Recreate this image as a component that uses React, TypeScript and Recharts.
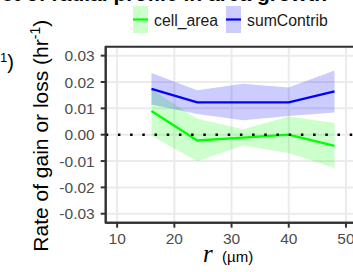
import React from "react";
import {
  ComposedChart,
  Area,
  Line,
  XAxis,
  YAxis,
  CartesianGrid,
  ReferenceLine,
  ReferenceArea,
  Legend,
} from "recharts";

const radius = [16, 24, 32, 40, 48];
const cellArea = [0.009, -0.0022, -0.0011, 0.0, -0.0042];
const cellAreaLow = [-0.0004, -0.0101, -0.0041, -0.0069, -0.0126];
const cellAreaHigh = [0.0172, 0.0061, 0.0021, 0.0069, 0.0044];
const sumContrib = [0.0174, 0.0123, 0.0123, 0.0123, 0.0164];
const sumContribLow = [0.0115, 0.0079, 0.0055, 0.0071, 0.0084];
const sumContribHigh = [0.0234, 0.0169, 0.0193, 0.0179, 0.0244];

const xTicks = [10, 20, 30, 40, 50];
const yTicks = [-0.03, -0.02, -0.01, 0, 0.01, 0.02, 0.03];
const xDomain = [8, 52];
const yDomain = [-0.0334, 0.0334];

const seriesNames = ["cell_area", "sumContrib"];
const lineColors = ["#00ff00", "#0000ff"];
const bandColors = ["#ccffcc", "#ccccff"];

const data = radius.map((r, i) => ({
  r,
  cellArea: cellArea[i],
  cellAreaBand: [cellAreaLow[i], cellAreaHigh[i]],
  sumContrib: sumContrib[i],
  sumContribBand: [sumContribLow[i], sumContribHigh[i]],
}));

const FONT = "'Liberation Sans', Arial, sans-serif";

const LegendContent = () => {
  const items = [
    { x: 133, textX: 154 },
    { x: 226, textX: 247 },
  ];
  return (
    <svg width={353} height={40} style={{ display: "block" }}>
      {items.map((it, i) => (
        <g key={seriesNames[i]}>
          <rect x={it.x} y={6} width={15} height={27} fill={bandColors[i]} />
          <line
            x1={it.x}
            x2={it.x + 15}
            y1={19.5}
            y2={19.5}
            stroke={lineColors[i]}
            strokeWidth={2.2}
          />
          <text
            x={it.textX}
            y={25.5}
            fontFamily={FONT}
            fontSize={15.8}
            fill="#1a1a1a"
          >
            {seriesNames[i]}
          </text>
        </g>
      ))}
    </svg>
  );
};

const fmt = (v: number) => (Math.abs(v) < 1e-9 ? "0.00" : v.toFixed(2));

export default function App() {
  return (
    <div
      style={{
        position: "absolute",
        left: 0,
        top: 0,
        width: 353,
        height: 272,
        overflow: "hidden",
        background: "#fff",
      }}
    >
      <ComposedChart
        width={360}
        height={272}
        data={data}
        margin={{ top: 46.7, right: 2.6, bottom: 0, left: 0 }}
      >
        <CartesianGrid stroke="#ebebeb" strokeWidth={2} />
        <XAxis
          dataKey="r"
          type="number"
          domain={xDomain}
          ticks={xTicks}
          height={49.3}
          allowDataOverflow
          axisLine={{ stroke: "#333333", strokeWidth: 2 }}
          tickLine={{ stroke: "#333333", strokeWidth: 2 }}
          tickSize={5}
          tickMargin={5}
          tick={{ fill: "#4d4d4d", fontSize: 15.5, fontFamily: FONT }}
        />
        <YAxis
          type="number"
          domain={yDomain}
          ticks={yTicks}
          width={105.7}
          allowDataOverflow
          tickFormatter={fmt}
          axisLine={{ stroke: "#333333", strokeWidth: 2 }}
          tickLine={{ stroke: "#333333", strokeWidth: 2 }}
          tickSize={5}
          tickMargin={6}
          tick={{ fill: "#4d4d4d", fontSize: 15.5, fontFamily: FONT }}
        />
        <Area
          type="linear"
          dataKey="cellAreaBand"
          stroke="none"
          fill="#00ff00"
          fillOpacity={0.2}
          isAnimationActive={false}
          activeDot={false}
        />
        <Area
          type="linear"
          dataKey="sumContribBand"
          stroke="none"
          fill="#0000ff"
          fillOpacity={0.2}
          isAnimationActive={false}
          activeDot={false}
        />
        <Line
          type="linear"
          dataKey="cellArea"
          stroke={lineColors[0]}
          strokeWidth={2.3}
          dot={false}
          activeDot={false}
          isAnimationActive={false}
        />
        <Line
          type="linear"
          dataKey="sumContrib"
          stroke={lineColors[1]}
          strokeWidth={2.3}
          dot={false}
          activeDot={false}
          isAnimationActive={false}
        />
        <ReferenceLine
          y={0}
          stroke="#000"
          strokeWidth={2.5}
          strokeDasharray="2.5 9.7"
        />
        <ReferenceArea
          x1={xDomain[0]}
          x2={xDomain[1]}
          y1={yDomain[0]}
          y2={yDomain[1]}
          fill="none"
          stroke="#333333"
          strokeWidth={2}
        />
        <Legend
          layout="horizontal"
          verticalAlign="middle"
          align="center"
          content={<LegendContent />}
          wrapperStyle={{ position: "absolute", left: 0, top: 0, width: 353, height: 40 }}
        />
      </ComposedChart>
      <svg
        width={353}
        height={272}
        style={{ position: "absolute", left: 0, top: 0, pointerEvents: "none" }}
      >
        <text
          x={327}
          y={0.5}
          textAnchor="end"
          fontFamily={FONT}
          fontWeight="bold"
          fontSize={21}
          fill="#000"
        >
          Effect of radial profile in area growth
        </text>
        <text x={14} y={69} textAnchor="end" fontFamily={FONT} fontSize={20} fill="#000">
          (hr
          <tspan dy={-7} fontSize={13}>
            -1
          </tspan>
          <tspan dy={7}>)</tspan>
        </text>
        <text
          transform="translate(48,251.7) rotate(-90)"
          fontFamily={FONT}
          fontSize={21}
          fill="#000"
        >
          Rate of gain or loss (hr
          <tspan dy={-8} fontSize={14}>
            -1
          </tspan>
          <tspan dy={8}>)</tspan>
        </text>
        <text
          x={203}
          y={261.5}
          fontFamily="'Liberation Serif', 'DejaVu Serif', serif"
          fontStyle="italic"
          fontSize={25}
          fill="#000"
        >
          r
        </text>
        <text x={222} y={261.5} fontFamily={FONT} fontSize={15} fill="#000">
          (µm)
        </text>
      </svg>
    </div>
  );
}
